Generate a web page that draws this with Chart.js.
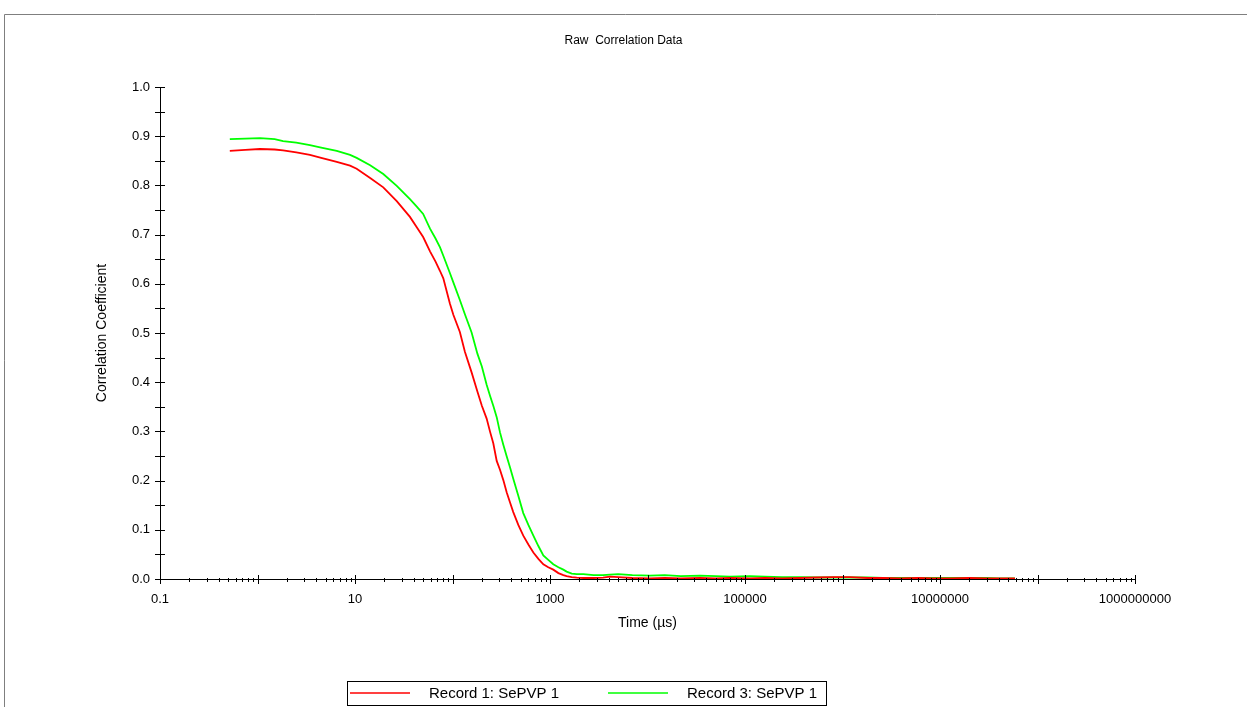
<!DOCTYPE html>
<html>
<head>
<meta charset="utf-8">
<title>Raw Correlation Data</title>
<script src="https://cdn.jsdelivr.net/npm/chart.js@4.4.1/dist/chart.umd.min.js"></script>
<style>
  html, body { margin: 0; padding: 0; background: #fff; }
  #wrap { width: 1247px; height: 707px; position: relative; }
</style>
</head>
<body>
<div id="wrap"><canvas id="chart"></canvas></div>
<script>
// time axis (µs)
const timeUs = [
  0.52, 0.75, 1.06, 1.5, 1.83, 2.5, 3.45, 4.5, 6.5, 8.9,
  10.4, 14.3, 19.5, 26.8, 36.6, 43, 50, 58.8, 67, 74.5,
  80.5, 94, 102, 119, 134, 157, 180, 200, 224, 243,
  262, 284, 307, 332, 360, 390, 420, 473, 532, 600,
  675, 760, 854, 960, 1080, 1220, 1370, 1480, 1670, 1880,
  2200, 2800, 3500, 4120, 5000, 7000, 10600, 15000, 22000, 34500,
  50000, 70000, 112000, 160000, 240000, 366000, 550000, 800000, 1190000, 1800000,
  2600000, 3890000, 6000000, 8500000, 12700000, 20000000, 30000000, 40000000, 58700000
];

const record1 = [
  0.870, 0.872, 0.874, 0.873, 0.871, 0.867, 0.862, 0.856, 0.848, 0.840,
  0.834, 0.815, 0.796, 0.768, 0.736, 0.715, 0.695, 0.666, 0.645, 0.626,
  0.611, 0.560, 0.537, 0.502, 0.462, 0.420, 0.381, 0.352, 0.326, 0.299,
  0.276, 0.240, 0.222, 0.201, 0.176, 0.155, 0.136, 0.110, 0.088, 0.070,
  0.054, 0.041, 0.030, 0.024, 0.019, 0.012, 0.008, 0.006, 0.004, 0.003,
  0.002, 0.002, 0.003, 0.005, 0.004, 0.002, 0.001, 0.002, 0.001, 0.002,
  0.001, 0.002, 0.001, 0.002, 0.001, 0.002, 0.003, 0.004, 0.004, 0.002,
  0.002, 0.001, 0.002, 0.001, 0.001, 0.002, 0.001, 0.001, 0.001
];

const record3 = [
  0.894, 0.895, 0.896, 0.894, 0.890, 0.887, 0.882, 0.877, 0.870, 0.862,
  0.856, 0.841, 0.823, 0.799, 0.772, 0.757, 0.742, 0.712, 0.692, 0.674,
  0.657, 0.622, 0.603, 0.567, 0.538, 0.501, 0.458, 0.432, 0.395, 0.372,
  0.352, 0.329, 0.298, 0.273, 0.249, 0.226, 0.204, 0.169, 0.134, 0.110,
  0.088, 0.067, 0.048, 0.039, 0.030, 0.024, 0.019, 0.015, 0.011, 0.010,
  0.010, 0.008, 0.008, 0.009, 0.010, 0.008, 0.007, 0.008, 0.006, 0.007,
  0.006, 0.005, 0.006, 0.005, 0.004, 0.004, 0.003, 0.003, 0.003, 0.003,
  0.002, 0.002, 0.002, 0.002, 0.002, 0.002, 0.002, 0.001, 0.001
];

const seriesNames = ['Record 1: SePVP 1', 'Record 3: SePVP 1'];
const seriesColors = ['#ff0000', '#00ff00'];
const xTickLabels = ['0.1', '10', '1000', '100000', '10000000', '1000000000'];
const yTickLabels = ['0.0', '0.1', '0.2', '0.3', '0.4', '0.5', '0.6', '0.7', '0.8', '0.9', '1.0'];

const FONT = '"Liberation Sans", Arial, sans-serif';
const NARROW = '"Liberation Sans Narrow", "Liberation Sans", Arial, sans-serif';

const isDecade = v => {
  const e = Math.log10(v);
  return Math.abs(e - Math.round(e)) < 1e-9;
};

// grey frame round the plot, like the instrument export
const framePlugin = {
  id: 'frame',
  beforeDraw(chart) {
    const { ctx, width, height } = chart;
    ctx.save();
    ctx.fillStyle = '#fff';
    ctx.fillRect(0, 0, width, height);
    ctx.strokeStyle = '#7f7f7f';
    ctx.lineWidth = 1;
    ctx.beginPath();
    ctx.moveTo(4.5, height);
    ctx.lineTo(4.5, 14.5);
    ctx.lineTo(width, 14.5);
    ctx.stroke();
    ctx.restore();
  }
};

// tick marks crossing the axis lines
const tickPlugin = {
  id: 'crossTicks',
  afterDraw(chart) {
    const { ctx, chartArea, scales } = chart;
    ctx.save();
    ctx.strokeStyle = '#000';
    ctx.lineWidth = 1;
    ctx.beginPath();
    scales.x.ticks.forEach(t => {
      const px = Math.round(scales.x.getPixelForValue(t.value)) + 0.5;
      const major = isDecade(t.value);
      ctx.moveTo(px, chartArea.bottom - (major ? 4 : 1));
      ctx.lineTo(px, chartArea.bottom + (major ? 5 : 3));
    });
    scales.y.ticks.forEach(t => {
      const py = Math.round(scales.y.getPixelForValue(t.value)) + 0.5;
      ctx.moveTo(chartArea.left - 5, py);
      ctx.lineTo(chartArea.left + 5, py);
    });
    ctx.stroke();
    ctx.restore();
  }
};

// boxed legend at the bottom
const legendPlugin = {
  id: 'boxLegend',
  afterDraw(chart) {
    const { ctx } = chart;
    const box = { left: 347, top: 681, right: 826, bottom: 705 };
    const midY = (box.top + box.bottom) / 2;
    ctx.save();
    ctx.strokeStyle = '#000';
    ctx.lineWidth = 1;
    ctx.strokeRect(box.left + 0.5, box.top + 0.5, box.right - box.left, box.bottom - box.top);
    ctx.font = '15px ' + FONT;
    ctx.textBaseline = 'middle';
    ctx.fillStyle = '#000';
    chart.data.datasets.forEach((ds, i) => {
      const x0 = box.left + 3 + i * 258;
      ctx.strokeStyle = ds.borderColor;
      ctx.lineWidth = 1.5;
      ctx.beginPath();
      ctx.moveTo(x0, midY);
      ctx.lineTo(x0 + 60, midY);
      ctx.stroke();
      ctx.fillText(ds.label, x0 + 79, midY + 1);
    });
    ctx.restore();
  }
};

const datasets = [record1, record3].map((vals, i) => ({
  label: seriesNames[i],
  data: timeUs.map((t, j) => ({ x: t, y: vals[j] })),
  borderColor: seriesColors[i],
  backgroundColor: seriesColors[i],
  borderWidth: 1.8,
  pointRadius: 0,
  tension: 0,
  fill: false
}));

new Chart(document.getElementById('chart'), {
  type: 'line',
  data: { datasets },
  plugins: [framePlugin, tickPlugin, legendPlugin],
  options: {
    responsive: true,
    maintainAspectRatio: false,
    animation: false,
    layout: { padding: { left: 0, right: 0, top: 0, bottom: 32 } },
    plugins: {
      legend: { display: false },
      tooltip: { enabled: false },
      title: {
        display: true,
        text: 'Raw  Correlation Data',
        color: '#000',
        font: { family: NARROW, size: 12, weight: 'normal' },
        padding: { top: 33, bottom: 39.6 }
      }
    },
    scales: {
      x: {
        type: 'logarithmic',
        position: 'bottom',
        min: 0.1,
        max: 1e9,
        afterBuildTicks(scale) {
          const ticks = [];
          for (let e = -1; e < 9; e++) {
            for (let m = 1; m <= 9; m++) {
              ticks.push({ value: parseFloat((m * Math.pow(10, e)).toPrecision(3)) });
            }
          }
          ticks.push({ value: 1e9 });
          scale.ticks = ticks;
        },
        afterFit(scale) { scale.height = 96; },
        grid: { display: false, drawTicks: false },
        border: { display: true, color: '#000', width: 1 },
        ticks: {
          autoSkip: false,
          maxRotation: 0,
          padding: 13,
          color: '#000',
          font: { family: FONT, size: 13 },
          callback: v => (xTickLabels.includes(String(v)) ? String(v) : '')
        },
        title: {
          display: true,
          text: 'Time (µs)',
          color: '#000',
          font: { family: NARROW, size: 14 },
          padding: { top: 0, bottom: 43.6 }
        }
      },
      y: {
        min: 0,
        max: 1,
        afterFit(scale) { scale.width = 160; },
        grid: { display: false, drawTicks: false },
        border: { display: true, color: '#000', width: 1 },
        ticks: {
          stepSize: 0.05,
          autoSkip: false,
          padding: 10,
          color: '#000',
          font: { family: FONT, size: 13 },
          callback: v => {
            const s = v.toFixed(1);
            return Math.round(v * 20) % 2 === 0 && yTickLabels.includes(s) ? s : '';
          }
        },
        title: {
          display: true,
          text: 'Correlation Coefficient',
          color: '#000',
          font: { family: NARROW, size: 14 },
          padding: { top: 94, bottom: 0 }
        }
      },
      right: {
        position: 'right',
        display: true,
        afterFit(scale) { scale.width = 112; },
        grid: { display: false, drawTicks: false },
        border: { display: false },
        ticks: { display: false }
      }
    }
  }
});
</script>
</body>
</html>
